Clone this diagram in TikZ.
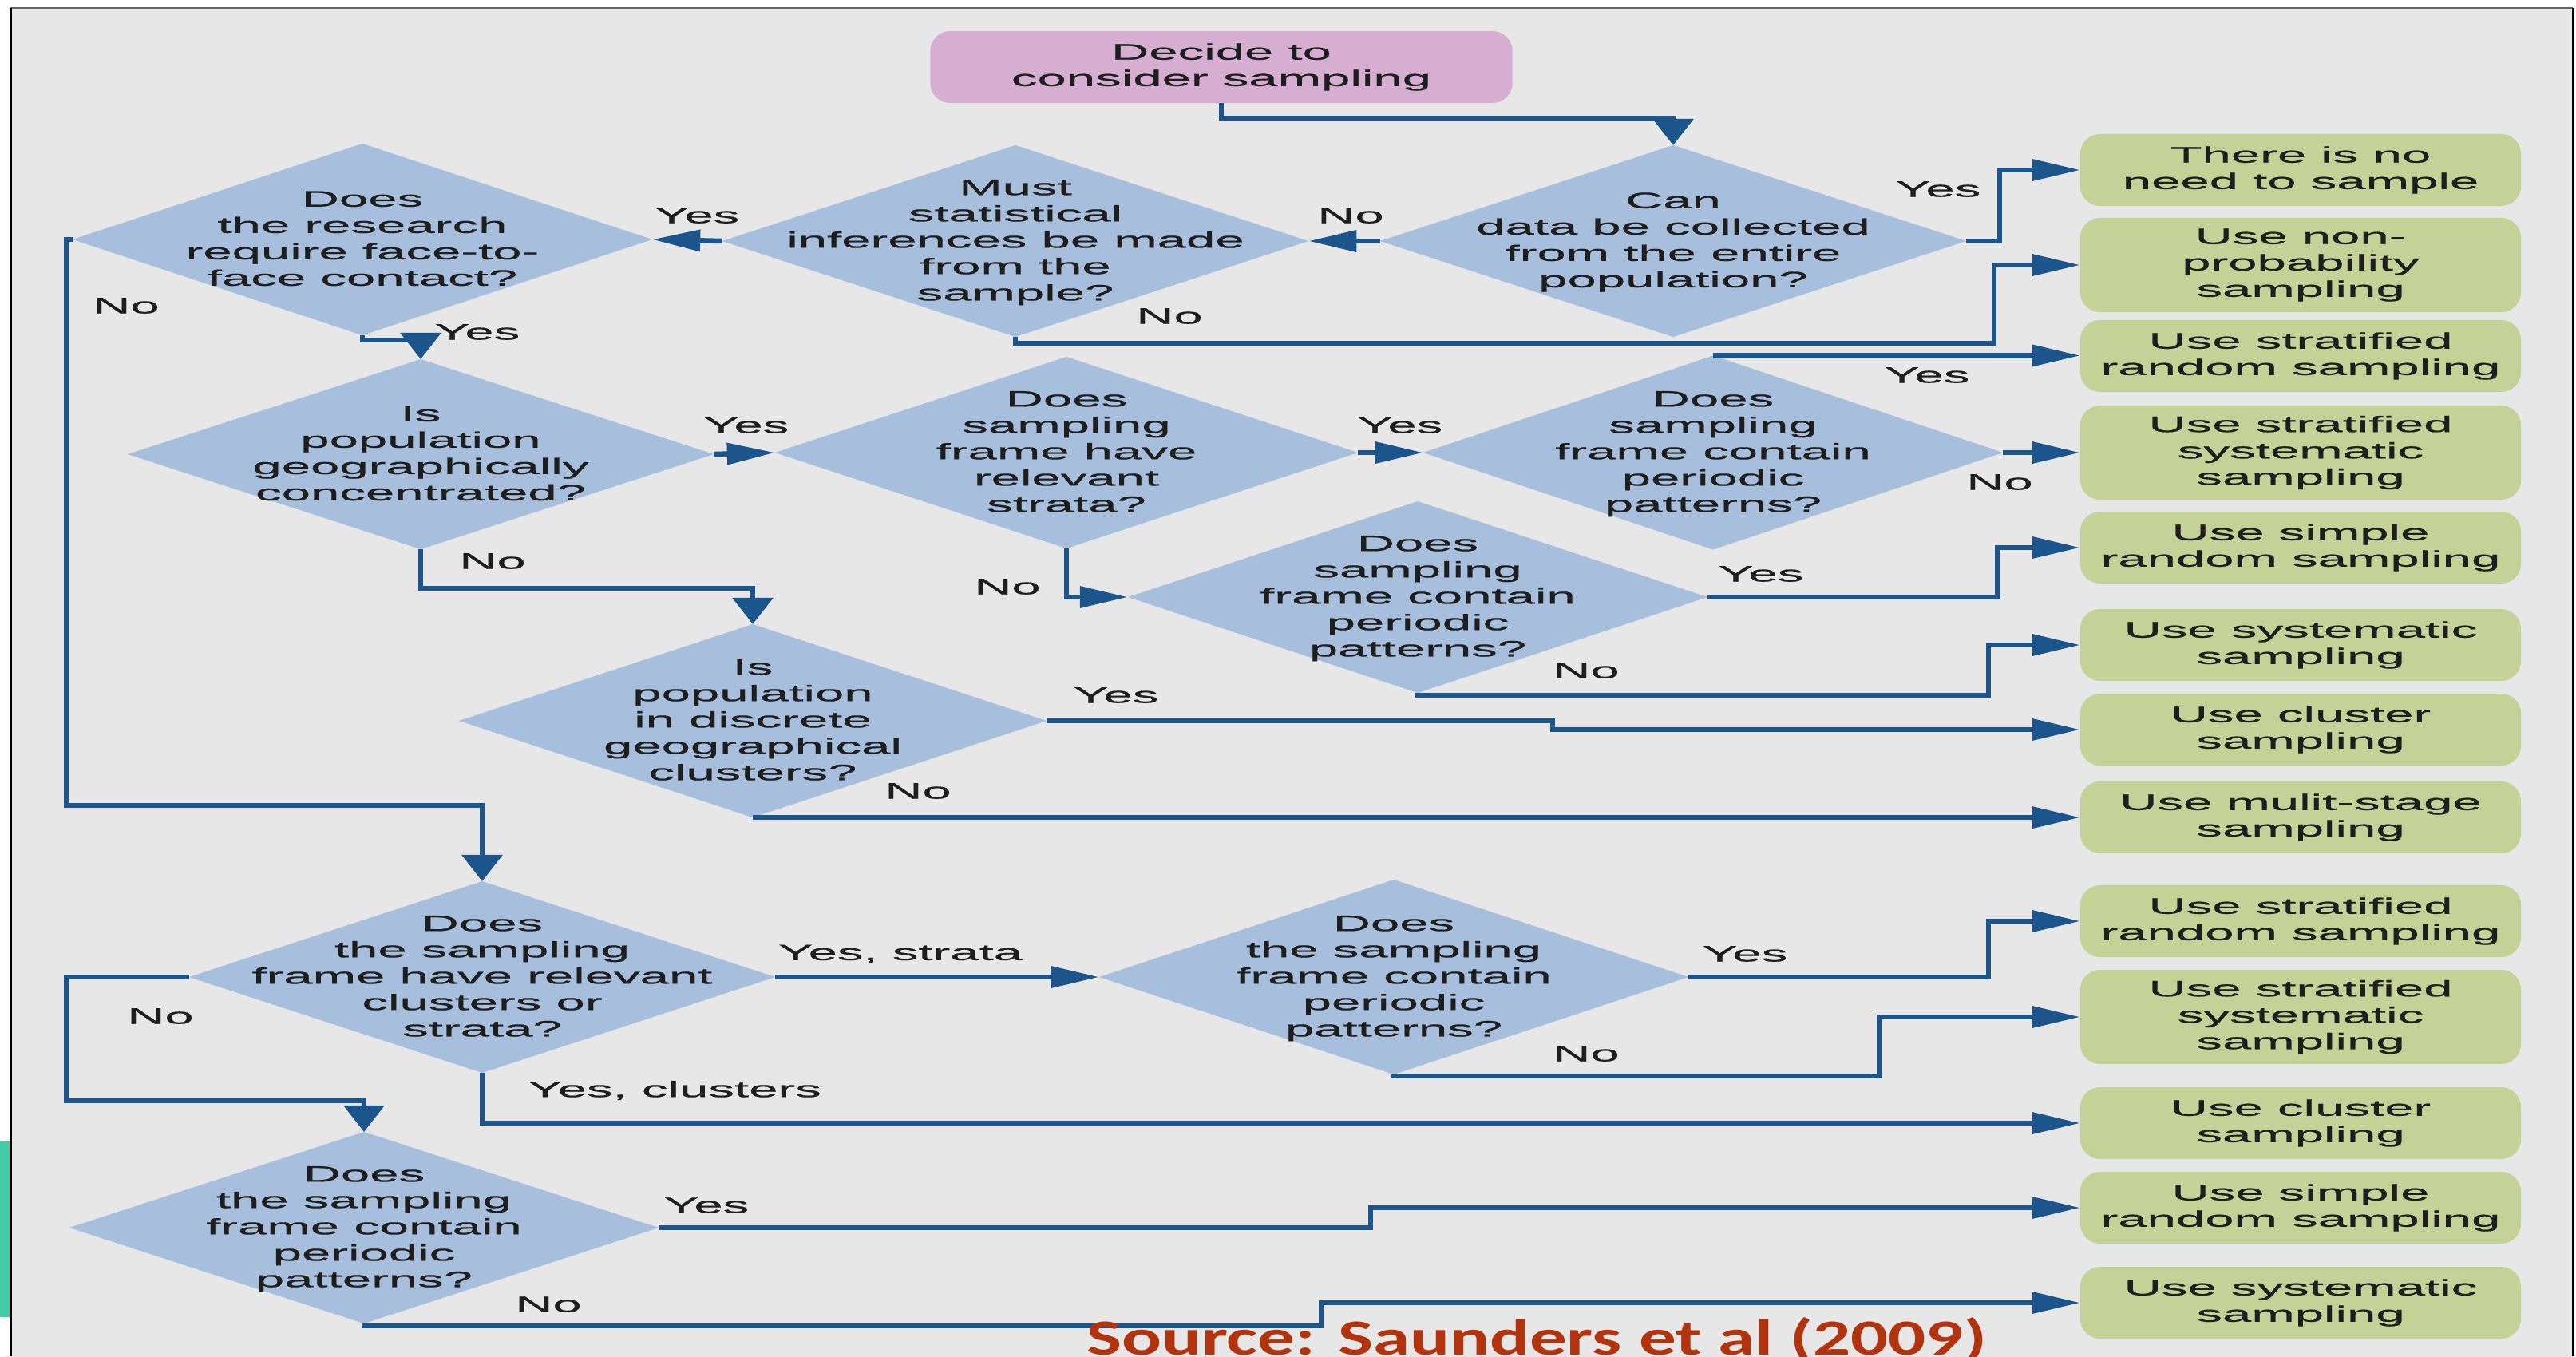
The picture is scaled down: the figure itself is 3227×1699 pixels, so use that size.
\documentclass[tikz,border=0pt]{standalone}
\usepackage{fontspec}
\setmainfont{Liberation Sans}[FakeStretch=2.33, FakeBold=0.6]
\newfontfamily\srcfont{Carlito}[FakeStretch=1.47]
\usetikzlibrary{shapes.geometric,arrows.meta,calc}

\definecolor{panel}{RGB}{231,231,231}
\definecolor{qfill}{RGB}{167,191,220}
\definecolor{leaf}{RGB}{196,210,152}
\definecolor{startfill}{RGB}{213,174,210}
\definecolor{flow}{RGB}{27,85,140}
\definecolor{ink}{RGB}{30,30,30}
\definecolor{tealbar}{RGB}{67,204,166}
\definecolor{srcred}{RGB}{178,52,14}

% body text size used for every box, question and answer label
\newcommand{\chartsize}{\fontsize{7.97pt}{9.39pt}\selectfont}
% question text: centred lines that do not enlarge the diamond
\newcommand{\qtext}[1]{\smash{\makebox[0pt]{\raisebox{-2.5pt}{\begin{tabular}{@{}c@{}}#1\end{tabular}}}}}

\tikzset{
  question/.style={diamond, fill=qfill, inner sep=0pt, outer sep=0pt,
    minimum width=7.34cm, minimum height=2.4cm, text=ink, font=\chartsize},
  leafbox/.style={rectangle, rounded corners=0.25cm, fill=leaf, inner sep=0pt,
    outer sep=0pt, minimum width=5.52cm, minimum height=0.9cm, align=center,
    text=ink, font=\chartsize},
  tallbox/.style={leafbox, minimum height=1.18cm},
  startbox/.style={rectangle, rounded corners=0.25cm, fill=startfill, inner sep=0pt,
    outer sep=0pt, minimum width=7.29cm, minimum height=0.9cm, align=center,
    text=ink, font=\chartsize},
  flowline/.style={draw=flow, line width=0.065cm},
  harrow/.style={flowline, -{Triangle[length=0.6cm,width=0.26cm]}},
  varrow/.style={flowline, -{Triangle[length=0.33cm,width=0.5cm]}},
  answer/.style={text=ink, inner sep=0pt, font=\chartsize},
}

\begin{document}
\begin{tikzpicture}[x=0.01cm, y=-0.01cm]
\useasboundingbox (0,0) rectangle (3227,1699);
\fill[white] (0,0) rectangle (3227,1699);

% panel behind the chart
\fill[panel] (13,10) rectangle (3223,1705);
\draw[gray!80!black, line width=0.02cm] (13,10) -- (3223,10);
\draw[black, line width=0.03cm] (13.5,10) -- (13.5,1699);
\draw[black, line width=0.03cm] (3223,10) -- (3223,1699);
\fill[tealbar] (0,1430) rectangle (12,1650);

% start
\node[startbox] (s) at (1530,84) {Decide to\\consider sampling};

% questions
\node[question] (d1) at (2096,302) {\qtext{Can\\data be collected\\from the entire\\population?}};
\node[question] (d2) at (1272,302) {\qtext{Must\\statistical\\inferences be made\\from the\\sample?}};
\node[question, minimum width=7.26cm] (d3) at (454,300) {\qtext{Does\\the research\\require face-to-\\face contact?}};
\node[question, minimum height=2.38cm] (d4) at (527,569) {\qtext{Is\\population\\geographically\\concentrated?}};
\node[question, minimum width=7.3cm] (d5) at (1336,567) {\qtext{Does\\sampling\\frame have\\relevant\\strata?}};
\node[question, minimum width=7.26cm, minimum height=2.43cm] (d8) at (2146,567) {\qtext{Does\\sampling\\frame contain\\periodic\\patterns?}};
\node[question, minimum width=7.26cm] (d9) at (1776,748) {\qtext{Does\\sampling\\frame contain\\periodic\\patterns?}};
\node[question, minimum width=7.36cm, minimum height=2.42cm] (d6) at (943,903) {\qtext{Is\\population\\in discrete\\geographical\\clusters?}};
\node[question] (d7) at (604,1224) {\qtext{Does\\the sampling\\frame have relevant\\clusters or\\strata?}};
\node[question, minimum width=7.38cm, minimum height=2.44cm] (d11) at (1746,1224) {\qtext{Does\\the sampling\\frame contain\\periodic\\patterns?}};
\node[question, minimum width=7.38cm] (d10) at (456,1538) {\qtext{Does\\the sampling\\frame contain\\periodic\\patterns?}};

% outcomes
\node[leafbox] (b1) at (2882,213) {There is no\\need to sample};
\node[tallbox] (b2) at (2882,332) {Use non-\\probability\\sampling};
\node[leafbox] (b3) at (2882,446) {Use stratified\\random sampling};
\node[tallbox] (b4) at (2882,567) {Use stratified\\systematic\\sampling};
\node[leafbox] (b5) at (2882,686) {Use simple\\random sampling};
\node[leafbox] (b6) at (2882,808) {Use systematic\\sampling};
\node[leafbox] (b7) at (2882,914) {Use cluster\\sampling};
\node[leafbox] (b8) at (2882,1024) {Use mulit-stage\\sampling};
\node[leafbox] (b9) at (2882,1154) {Use stratified\\random sampling};
\node[tallbox] (b10) at (2882,1274) {Use stratified\\systematic\\sampling};
\node[leafbox] (b11) at (2882,1407) {Use cluster\\sampling};
\node[leafbox] (b12) at (2882,1513) {Use simple\\random sampling};
\node[leafbox] (b13) at (2882,1632) {Use systematic\\sampling};

% connectors
\draw[varrow] (s.south) -- ++(0,19) -| (d1.north);

\draw[harrow] (d1.east) -- (2505,302) |- (b1.west);
\node[answer] (l1) at (2428,237) {Yes};
\draw[harrow] (d1.west) -- (d2.east);
\node[answer] (l2) at (1692,270) {No};

\draw[harrow] (d2.west) -- (d3.east);
\node[answer] (l3) at (873,270) {Yes};
\draw[harrow] (d2.south) |- (2498,430) |- (b2.west);
\node[answer] (l4) at (1465,396) {No};

\draw[varrow] (d3.west) -| (83,1009) -| (d7.north);
\node[answer] (l5) at (158,383) {No};
\draw[varrow] (d3.south) -- ++(0,6) -| (d4.north);
\node[answer] (l6) at (598,416) {Yes};

\draw[harrow] (d4.east) -- (d5.west);
\node[answer] (l7) at (935,533) {Yes};
\draw[varrow] (d4.south) -- (527,737) -| (d6.north);
\node[answer] (l8) at (617,703) {No};

\draw[harrow] (d5.east) -- (d8.west);
\node[answer] (l9) at (1754,533) {Yes};
\draw[harrow] (d5.south) |- (d9.west);
\node[answer] (l10) at (1262,735) {No};

\draw[harrow] (d8.north) -- (d8.north -| b3.west);
\node[answer] (l11) at (2414,470) {Yes};
\draw[harrow] (d8.east) -- (d8.east -| b4.west);
\node[answer] (l12) at (2505,604) {No};

\draw[harrow] (d9.east) -- (2502,748) |- (b5.west);
\node[answer] (l13) at (2206,719) {Yes};
\draw[harrow] (d9.south) |- (2491,871) |- (b6.west);
\node[answer] (l14) at (1987,840) {No};

\draw[harrow] (d6.east) -- (1945,903) -- (1945,914) -- (b7.west);
\node[answer] (l15) at (1398,871) {Yes};
\draw[harrow] (d6.south) -- (d6.south -| b8.west);
\node[answer] (l16) at (1150,991) {No};

\draw[harrow] (d7.east) -- (d11.west);
\node[answer] (l17) at (1128,1195) {Yes, strata};
\draw[harrow] (d7.south) |- (b11.west);
\node[answer] (l18) at (845,1366) {Yes, clusters};
\draw[varrow] (d7.west) -| (83,1379) -| (d10.north);
\node[answer] (l19) at (201,1273) {No};

\draw[harrow] (d11.east) -- (2491,1224) |- (b9.west);
\node[answer] (l20) at (2186,1195) {Yes};
\draw[harrow] (d11.south) |- (2354,1348) |- (b10.west);
\node[answer] (l21) at (1987,1320) {No};

\draw[harrow] (d10.east) -- (1717,1538) |- (b12.west);
\node[answer] (l22) at (885,1510) {Yes};
\draw[harrow] (d10.south) |- (1655,1661) |- (b13.west);
\node[answer] (l23) at (687,1634) {No};

% citation
\node[anchor=base, inner sep=0pt, text=srcred, font=\srcfont\bfseries\fontsize{18pt}{22pt}\selectfont] (src) at (1925,1697) {Source: Saunders et al (2009)};
\end{tikzpicture}
\end{document}
